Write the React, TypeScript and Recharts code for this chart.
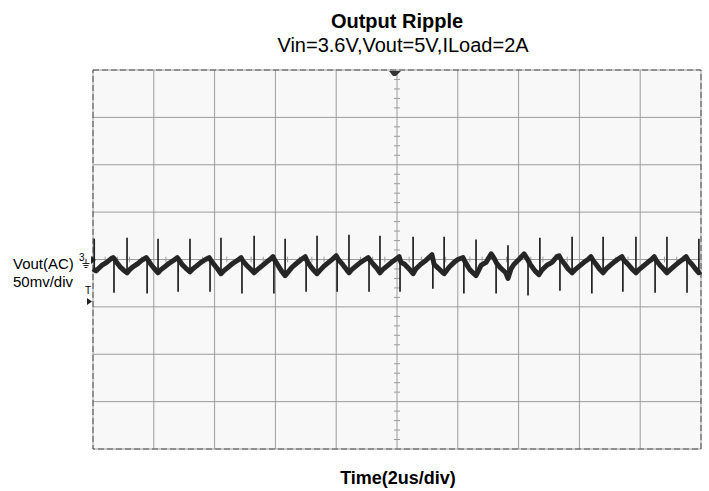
import {
  LineChart,
  Line,
  XAxis,
  YAxis,
  CartesianGrid,
  ReferenceLine,
  ReferenceArea
} from 'recharts'

// time in us (2us/div, 10 div), voltage in mV (50mV/div, 8 div)
const timeTicks = [2, 4, 6, 8, 12, 14, 16, 18]
const voltTicks = [-150, -100, -50, 50, 100, 150]

// minor graticule marks on the centre lines
const minorTime = [
  0.4, 0.8, 1.2, 1.6, 2.4, 2.8, 3.2, 3.6, 4.4, 4.8, 5.2, 5.6, 6.4, 6.8, 7.2, 7.6,
  8.4, 8.8, 9.2, 9.6, 10.4, 10.8, 11.2, 11.6, 12.4, 12.8, 13.2, 13.6, 14.4, 14.8,
  15.2, 15.6, 16.4, 16.8, 17.2, 17.6, 18.4, 18.8, 19.2, 19.6
]
const minorVolt = [
  -190, -180, -170, -160, -140, -130, -120, -110, -90, -80, -70, -60, -40, -30, -20, -10,
  10, 20, 30, 40, 60, 70, 80, 90, 110, 120, 130, 140, 160, 170, 180, 190
]

// ripple trace: [t(us), mV]
const trace: [number, number][] = [
  [0.0, -10], [0.1, -12], [0.2, -9], [0.3, -6], [0.45, -3], [0.6, 1], [0.66, 2],
  [0.72, 0], [0.8, -4], [0.9, -8], [1.0, -11], [1.12, -14], [1.2, -11], [1.3, -8],
  [1.45, -5], [1.6, -1], [1.75, 2], [1.82, -1], [1.9, -5], [2.0, -9], [2.14, -14],
  [2.22, -11], [2.35, -8], [2.5, -4], [2.65, -1], [2.77, 2], [2.84, -1], [2.95, -6],
  [3.05, -9], [3.19, -13], [3.28, -10], [3.4, -7], [3.55, -3], [3.7, 0], [3.82, 2],
  [3.88, -1], [4.0, -6], [4.1, -10], [4.21, -15], [4.3, -12], [4.45, -8], [4.6, -4],
  [4.75, -1], [4.87, 2], [4.94, -2], [5.05, -6], [5.18, -10], [5.3, -14], [5.4, -11],
  [5.55, -7], [5.7, -3], [5.82, 0], [5.92, 3], [5.98, -1], [6.1, -7], [6.2, -12],
  [6.32, -17], [6.42, -13], [6.55, -8], [6.7, -4], [6.85, 0], [6.98, 3], [7.05, -2],
  [7.15, -7], [7.25, -11], [7.37, -15], [7.45, -12], [7.6, -7], [7.75, -3], [7.9, 1],
  [8.0, 4], [8.07, 0], [8.18, -4], [8.3, -9], [8.42, -14], [8.5, -11], [8.65, -7],
  [8.8, -3], [8.95, 0], [9.05, 2], [9.12, -1], [9.22, -5], [9.33, -9], [9.44, -14],
  [9.52, -11], [9.67, -7], [9.82, -3], [9.95, 0], [10.07, 3], [10.13, -3], [10.25, -5],
  [10.4, -10], [10.53, -15], [10.62, -10], [10.78, -5], [10.95, -1], [11.15, 5],
  [11.22, -5], [11.32, -8], [11.48, -13], [11.55, -15], [11.72, -8], [11.88, -3],
  [12.0, 0], [12.17, 2], [12.25, -3], [12.4, -11], [12.6, -17], [12.77, -6],
  [12.93, -3], [13.1, 6], [13.2, 1], [13.28, -4], [13.41, -9], [13.58, -14],
  [13.65, -20], [13.75, -10], [13.85, -5], [14.01, 0], [14.18, 6], [14.28, 1],
  [14.38, -5], [14.54, -12], [14.67, -16], [14.77, -11], [14.93, -6], [15.1, -3],
  [15.26, 3], [15.33, 4], [15.4, 0], [15.52, -5], [15.63, -10], [15.76, -14],
  [15.85, -11], [16.0, -7], [16.15, -3], [16.28, 0], [16.38, 3], [16.45, -1],
  [16.55, -5], [16.66, -10], [16.78, -14], [16.88, -10], [17.02, -6], [17.17, -2],
  [17.3, 1], [17.4, 3], [17.47, -1], [17.6, -5], [17.73, -10], [17.86, -14],
  [17.95, -11], [18.1, -7], [18.25, -3], [18.37, 0], [18.46, 3], [18.53, -1],
  [18.65, -6], [18.77, -10], [18.88, -14], [18.98, -11], [19.12, -7], [19.27, -3],
  [19.4, 0], [19.51, 3], [19.58, -1], [19.7, -5], [19.82, -10], [19.93, -14], [20.0, -13]
]

// switching spikes: [t(us), tip mV]
const downSpikes: [number, number][] = [
  [0.69, -35], [1.78, -36], [2.8, -34], [3.85, -34], [4.9, -36], [5.95, -36], [7.01, -34],
  [8.03, -34], [9.08, -34], [10.1, -34], [11.18, -31], [12.2, -36], [13.26, -36],
  [14.31, -38], [15.36, -33], [16.41, -36], [17.43, -34], [18.49, -35], [19.54, -35]
]
const upSpikes: [number, number][] = [
  [0.04, 22], [1.12, 23], [2.14, 22], [3.19, 22], [4.21, 23], [5.3, 25], [6.32, 22],
  [7.37, 25], [8.42, 26], [9.44, 25], [10.53, 24], [11.55, 24], [12.6, 21], [13.65, 15],
  [14.7, 23], [15.76, 24], [16.78, 24], [17.86, 24], [18.88, 24], [19.93, 22]
]

const traceData = trace.map(([t, v]) => ({ t, v }))

const spikeData: { t: number; v: number | null }[] = []
downSpikes.forEach(([t, tip]) => {
  spikeData.push({ t, v: 1 }, { t, v: tip }, { t, v: null })
})
upSpikes.forEach(([t, tip]) => {
  spikeData.push({ t, v: -13 }, { t, v: tip }, { t, v: null })
})

const font = '"Liberation Sans", Arial, sans-serif'
const GRID = '#9c9c9c'

function Label ({ x, y, w, size, bold, children }: any) {
  return (
    <div
      style={{
        position: 'absolute',
        left: x,
        top: y,
        width: w,
        textAlign: w ? 'center' : 'left',
        fontFamily: font,
        fontSize: size,
        fontWeight: bold ? 'bold' : 'normal',
        lineHeight: `${size}px`,
        whiteSpace: 'nowrap',
        color: '#000'
      }}
    >
      {children}
    </div>
  )
}

export default function App () {
  return (
    <div style={{ position: 'absolute', left: 0, top: 0, width: 709, height: 491, background: '#fff' }}>
      <LineChart
        width={709}
        height={491}
        data={traceData}
        margin={{ top: 70, right: 8, bottom: 42, left: 93 }}
      >
        <XAxis dataKey='t' type='number' domain={[0, 20]} ticks={timeTicks} hide />
        <YAxis type='number' domain={[-200, 200]} ticks={voltTicks} hide />
        <CartesianGrid stroke={GRID} fill='#f8f8f8' strokeWidth={1} />

        <ReferenceLine x={10} stroke={GRID} />
        <ReferenceLine y={0} stroke={GRID} />
        {minorVolt.map(v => (
          <ReferenceLine
            key={'mv' + v}
            stroke={GRID}
            segment={[{ x: 9.9, y: v }, { x: 10.1, y: v }]}
          />
        ))}
        {minorTime.map(t => (
          <ReferenceLine
            key={'mt' + t}
            stroke={GRID}
            segment={[{ x: t, y: -3 }, { x: t, y: 3 }]}
          />
        ))}

        <Line
          dataKey='v'
          type='linear'
          stroke='#262626'
          strokeWidth={5}
          strokeLinejoin='round'
          dot={false}
          isAnimationActive={false}
        />
        <Line
          data={spikeData}
          dataKey='v'
          type='linear'
          stroke='#222'
          strokeWidth={1.7}
          dot={false}
          connectNulls={false}
          isAnimationActive={false}
        />

        <ReferenceArea
          x1={0}
          x2={20}
          y1={-200}
          y2={200}
          fill='none'
          fillOpacity={0}
          stroke='#555'
          strokeDasharray='6 3'
          strokeWidth={1}
        />
      </LineChart>

      <Label x={247} y={11} w={300} size={20} bold>Output Ripple</Label>
      <Label x={253} y={35} w={300} size={20}>Vin=3.6V,Vout=5V,ILoad=2A</Label>
      <Label x={248} y={469} w={300} size={18} bold>Time(2us/div)</Label>
      <Label x={13} y={256} size={15}>Vout(AC)</Label>
      <Label x={13} y={274} size={15}>50mv/div</Label>
      <Label x={79} y={253} size={10}>3</Label>
      <Label x={85} y={286} size={10}>T</Label>

      <svg
        width={709}
        height={491}
        style={{ position: 'absolute', left: 0, top: 0, pointerEvents: 'none' }}
      >
        {/* ground symbol */}
        <g stroke='#222' strokeWidth={1}>
          <line x1={86} y1={259} x2={86} y2={263} />
          <line x1={82.5} y1={263.5} x2={89.5} y2={263.5} />
          <line x1={83.5} y1={265.5} x2={88.5} y2={265.5} />
          <line x1={84.5} y1={267.5} x2={87.5} y2={267.5} />
        </g>
        <polygon points='91,256 96,260 91,264' fill='#222' />
        <polygon points='87,298 92,301.5 87,305' fill='#222' />
        <polygon points='389,71 401,71 396,76 393,76' fill='#333' />
      </svg>
    </div>
  )
}
